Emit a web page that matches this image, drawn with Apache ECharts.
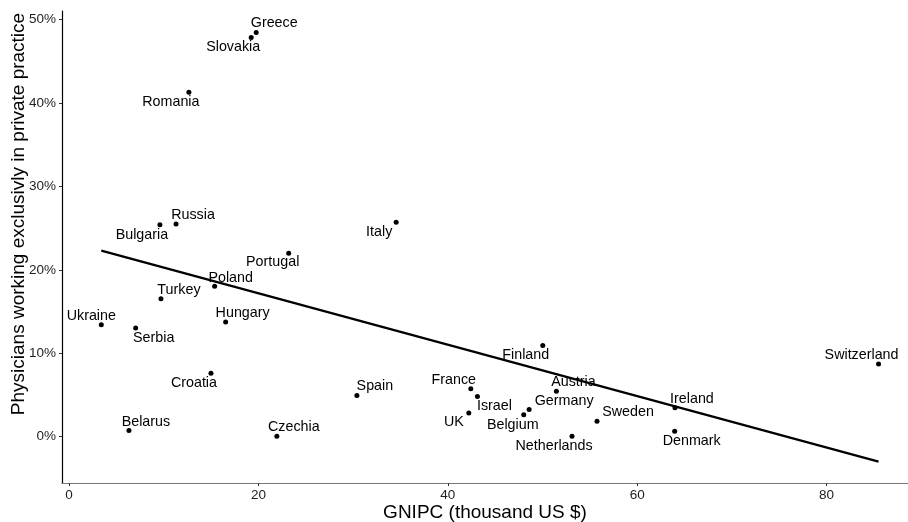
<!DOCTYPE html>
<html>
<head>
<meta charset="utf-8">
<script src="https://cdn.jsdelivr.net/npm/echarts@6/dist/echarts.min.js"></script>
<style>html,body{margin:0;padding:0;background:#fff}#c{width:908px;height:522px}</style>
</head>
<body>
<div id="c"></div>
<script>
const countries = ["Greece","Slovakia","Romania","Bulgaria","Russia","Portugal","Poland","Turkey","Ukraine","Serbia","Hungary","Croatia","Belarus","Czechia","Italy","Finland","Spain","France","Israel","UK","Belgium","Germany","Austria","Netherlands","Sweden","Ireland","Denmark","Switzerland"];
const gnipc = [19.77,19.24,12.66,9.6,11.3,23.2,15.38,9.71,3.41,7.04,16.54,14.99,6.33,21.95,34.55,50.03,30.4,42.43,43.13,42.22,48.02,48.59,51.47,53.12,55.76,63.99,63.96,85.49];
const privatePct = [48.46,47.86,41.29,25.4,25.5,22.0,18.04,16.52,13.42,13.02,13.74,7.6,0.72,0.04,25.69,10.94,4.93,5.73,4.81,2.82,2.63,3.26,5.45,0.04,1.83,3.46,0.63,8.72];
const fitLine = [[3.41,22.3],[85.49,-2.99]];
const xTicks = [0,20,40,60,80];
const yTicks = [0,10,20,30,40,50];

// label offsets (pixels) relative to each point
const labelOffsets = {
  Greece:[18,-9], Slovakia:[-18,10], Romania:[-18,10], Bulgaria:[-18,10], Russia:[17,-9],
  Portugal:[-16,9], Poland:[16,-8], Turkey:[18,-9], Ukraine:[-10,-9], Serbia:[18,10],
  Hungary:[17,-9], Croatia:[-17,10], Belarus:[17,-9], Czechia:[17,-9], Italy:[-17,10],
  Finland:[-17,10], Spain:[18,-9], France:[-17,-9], Israel:[17,10], UK:[-15,9],
  Belgium:[-11,10], Germany:[35,-8], Austria:[17,-9], Netherlands:[-18,10], Sweden:[31,-9],
  Ireland:[17,-9], Denmark:[17,10], Switzerland:[-17,-9]
};

const pts = countries.map((n,i)=>({
  name:n, value:[gnipc[i], privatePct[i]],
  label:{offset: labelOffsets[n]}
}));

const FONT = 'Liberation Sans, Arial, sans-serif';
const chart = echarts.init(document.getElementById('c'), null, {renderer:'canvas'});
chart.setOption({
  animation:false,
  backgroundColor:'#fff',
  grid:{left:62, right:0, top:11, bottom:39, containLabel:false, outerBoundsMode:'none'},
  xAxis:{
    type:'value', min:-0.74, max:88.6,
    name:'GNIPC (thousand US $)', nameLocation:'middle', nameGap:20, nameMoveOverlap:false,
    nameTextStyle:{fontSize:19, color:'#000', fontFamily:FONT},
    axisLine:{show:true, onZero:false, lineStyle:{color:'#777', width:1.2}},
    axisTick:{show:true, length:3, lineStyle:{color:'#333'}, customValues:xTicks},
    axisLabel:{margin:5, fontSize:13.5, color:'#1e1e1e', fontFamily:FONT, customValues:xTicks, formatter:v=>String(v)},
    splitLine:{show:false}
  },
  yAxis:{
    type:'value', min:-5.56, max:51.03,
    name:'Physicians working exclusivly in private practice', nameLocation:'middle', nameGap:34, nameMoveOverlap:false,
    nameTextStyle:{fontSize:19, color:'#000', fontFamily:FONT, padding:[0,0,0,66]},
    axisLine:{show:true, onZero:false, lineStyle:{color:'#000', width:1.2}},
    axisTick:{show:true, length:3, lineStyle:{color:'#333'}, customValues:yTicks},
    axisLabel:{margin:6, fontSize:13.5, color:'#1e1e1e', fontFamily:FONT, customValues:yTicks, formatter:v=>v+'%'},
    splitLine:{show:false}
  },
  series:[
    {
      type:'line', data:fitLine, showSymbol:false, symbol:'none', z:2,
      lineStyle:{color:'#000', width:2.2}, silent:true
    },
    {
      type:'scatter', data:pts, symbolSize:5, z:3,
      itemStyle:{color:'#000', opacity:1},
      label:{show:true, position:'inside', formatter:'{b}', fontSize:14.3, color:'#000', opacity:1,
        fontFamily:FONT, align:'center', verticalAlign:'middle'}
    }
  ]
});
</script>
</body>
</html>
